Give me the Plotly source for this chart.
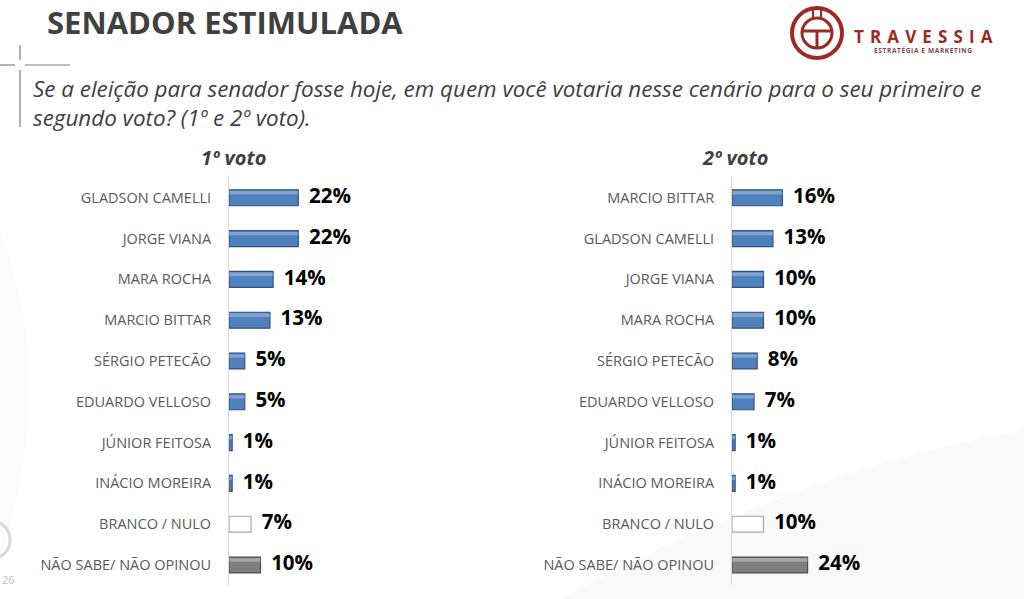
import plotly.graph_objects as go

# ---------------- data ----------------
cats1 = ["GLADSON CAMELLI", "JORGE VIANA", "MARA ROCHA", "MARCIO BITTAR",
         "SÉRGIO PETECÃO", "EDUARDO VELLOSO", "JÚNIOR FEITOSA",
         "INÁCIO MOREIRA", "BRANCO / NULO", "NÃO SABE/ NÃO OPINOU"]
vals1 = [22, 22, 14, 13, 5, 5, 1, 1, 7, 10]

cats2 = ["MARCIO BITTAR", "GLADSON CAMELLI", "JORGE VIANA", "MARA ROCHA",
         "SÉRGIO PETECÃO", "EDUARDO VELLOSO", "JÚNIOR FEITOSA",
         "INÁCIO MOREIRA", "BRANCO / NULO", "NÃO SABE/ NÃO OPINOU"]
vals2 = [16, 13, 10, 10, 8, 7, 1, 1, 10, 24]

headers = ["1º voto", "2º voto"]
title = "SENADOR ESTIMULADA"
subtitle = ("Se a eleição para senador fosse hoje, em quem você votaria nesse cenário para o seu primeiro e<br>"
            "segundo voto? (1º e 2º voto).")

W, H = 1024, 599
def px(x): return x / W
def py(y): return 1 - y / H

def fill_for(c):
    if c == "BRANCO / NULO":
        return "#FFFFFF", "#A6A6A6", "rgba(0,0,0,0)"
    if c.startswith("NÃO SABE"):
        return "#7F7F7F", "#4D4D4D", "rgba(255,255,255,0.30)"
    return "#4F81BD", "#2F5282", "rgba(255,255,255,0.28)"

fig = go.Figure()

panels = [(cats1, vals1, "x", "y"), (cats2, vals2, "x2", "y2")]
for cats, vals, xa, ya in panels:
    fills = [fill_for(c) for c in cats]
    fig.add_trace(go.Bar(
        x=vals, y=cats, orientation="h", xaxis=xa, yaxis=ya, width=0.39,
        marker=dict(color=[f[0] for f in fills],
                    line=dict(color=[f[1] for f in fills], width=1.2)),
        hoverinfo="skip", showlegend=False))
    # highlight stripe (bevel look)
    fig.add_trace(go.Bar(
        x=vals, y=cats, orientation="h", xaxis=xa, yaxis=ya, width=0.09,
        offset=-0.17,
        marker=dict(color=[f[2] for f in fills], line=dict(width=0)),
        hoverinfo="skip", showlegend=False))
    fig.add_trace(go.Scatter(
        x=vals, y=cats, xaxis=xa, yaxis=ya, mode="text",
        text=[f"\u00a0\u00a0{v}%" for v in vals], textposition="middle right",
        textfont=dict(family="Open Sans", size=20.5, color="#000000", weight="bold"),
        cliponaxis=False, hoverinfo="skip", showlegend=False))

ydom = [py(585.4), py(177.4)]
xw = 126
common_x = dict(range=[0, 40], showgrid=False, zeroline=False, showticklabels=False,
                showline=False, fixedrange=True)
common_y = dict(domain=ydom, autorange="reversed", showgrid=False, zeroline=False,
                showline=True, linecolor="#D9D9D9", linewidth=1, ticks="",
                ticklabelstandoff=14, fixedrange=True,
                tickfont=dict(family="Open Sans", size=14.5, color="#595959"))

fig.update_layout(
    width=W, height=H, margin=dict(l=0, r=0, t=0, b=0),
    paper_bgcolor="#FFFFFF", plot_bgcolor="rgba(0,0,0,0)",
    barmode="overlay", bargap=0.6,
    xaxis=dict(domain=[px(229), px(229 + xw)], anchor="y", **common_x),
    xaxis2=dict(domain=[px(732), px(732 + xw)], anchor="y2", **common_x),
    yaxis=dict(anchor="x", **common_y),
    yaxis2=dict(anchor="x2", **common_y),
)

anns = []
anns.append(dict(text=f"<b>{title}</b>", x=px(45), y=py(22), xref="paper", yref="paper",
                 xanchor="left", yanchor="middle", showarrow=False,
                 font=dict(family="Open Sans", size=31, color="#404040")))
anns.append(dict(text=f"<i>{subtitle}</i>", x=px(31), y=py(103), xref="paper", yref="paper",
                 xanchor="left", yanchor="middle", align="left", showarrow=False,
                 font=dict(family="Open Sans", size=22.4, color="#404040")))
for h, cx in zip(headers, [233, 735]):
    anns.append(dict(text=f"<b><i>{h}</i></b>", x=px(cx), y=py(157), xref="paper", yref="paper",
                     xanchor="center", yanchor="middle", showarrow=False,
                     font=dict(family="Open Sans", size=20, color="#404040")))
# logo text
anns.append(dict(text="<b>" + " \u200a".join("TRAVESSIA") + "</b>", x=px(852), y=py(37),
                 xref="paper", yref="paper", xanchor="left", yanchor="middle", showarrow=False,
                 font=dict(family="Open Sans", size=17, color="#9B2B22")))
anns.append(dict(text="<b>" + "\u200a".join("ESTRATÉGIA E MARKETING") + "</b>", x=px(923), y=py(50),
                 xref="paper", yref="paper", xanchor="center", yanchor="middle", showarrow=False,
                 font=dict(family="Open Sans", size=6.5, color="#7F4A45")))
anns.append(dict(text="26", x=px(0), y=py(579), xref="paper", yref="paper",
                 xanchor="left", yanchor="middle", showarrow=False,
                 font=dict(family="Open Sans", size=11, color="#BFBFBF")))
fig.update_layout(annotations=anns)

shapes = []
# subtle background swooshes
shapes.append(dict(type="path", xref="paper", yref="paper", layer="below",
                   path=f"M {px(560)},{py(599)} Q {px(800)},{py(470)} {px(1024)},{py(430)} L {px(1024)},{py(599)} Z",
                   fillcolor="rgba(0,0,0,0.025)", line=dict(width=0)))
shapes.append(dict(type="path", xref="paper", yref="paper", layer="below",
                   path=f"M {px(0)},{py(230)} Q {px(60)},{py(380)} {px(0)},{py(560)} Z",
                   fillcolor="rgba(0,0,0,0.012)", line=dict(width=0)))
# corner cross marks
shapes.append(dict(type="line", xref="paper", yref="paper", x0=px(20), x1=px(20), y0=py(45), y1=py(60),
                   line=dict(color="#808080", width=1.2)))
shapes.append(dict(type="line", xref="paper", yref="paper", x0=px(20), x1=px(20), y0=py(70), y1=py(127),
                   line=dict(color="#808080", width=1.2)))
shapes.append(dict(type="line", xref="paper", yref="paper", x0=px(0), x1=px(15), y0=py(65), y1=py(65),
                   line=dict(color="#808080", width=1.2)))
shapes.append(dict(type="line", xref="paper", yref="paper", x0=px(25), x1=px(70), y0=py(65), y1=py(65),
                   line=dict(color="#808080", width=1.2)))
# logo
cx, cy = 817, 33
red = "#9B2B22"
shapes.append(dict(type="circle", xref="paper", yref="paper", x0=px(cx - 25), x1=px(cx + 25),
                   y0=py(cy + 25), y1=py(cy - 25), line=dict(color=red, width=4)))
shapes.append(dict(type="circle", xref="paper", yref="paper", x0=px(cx - 15), x1=px(cx + 15),
                   y0=py(cy + 15), y1=py(cy - 15), line=dict(color=red, width=3)))
shapes.append(dict(type="line", xref="paper", yref="paper", x0=px(cx - 15), x1=px(cx + 15),
                   y0=py(cy - 2), y1=py(cy - 2), line=dict(color=red, width=3)))
shapes.append(dict(type="line", xref="paper", yref="paper", x0=px(cx), x1=px(cx),
                   y0=py(cy - 2), y1=py(cy + 15), line=dict(color=red, width=3)))
shapes.append(dict(type="line", xref="paper", yref="paper", x0=px(cx - 4), x1=px(cx - 4),
                   y0=py(cy - 25), y1=py(cy - 15), line=dict(color=red, width=2)))
shapes.append(dict(type="line", xref="paper", yref="paper", x0=px(cx + 4), x1=px(cx + 4),
                   y0=py(cy - 25), y1=py(cy - 15), line=dict(color=red, width=2)))
# faint watermark circle at lower-left
shapes.append(dict(type="circle", xref="paper", yref="paper", x0=px(-22), x1=px(10),
                   y0=py(558), y1=py(522), line=dict(color="#D9D9D9", width=3)))
fig.update_layout(shapes=shapes)

fig.write_html("out.html", config={"displayModeBar": False, "staticPlot": True})

# remove the default page margin so the figure fills the window exactly
with open("out.html", encoding="utf-8") as f:
    html = f.read()
html = html.replace("<head>", "<head><style>html,body{margin:0;padding:0;overflow:hidden;}</style>", 1)
with open("out.html", "w", encoding="utf-8") as f:
    f.write(html)
